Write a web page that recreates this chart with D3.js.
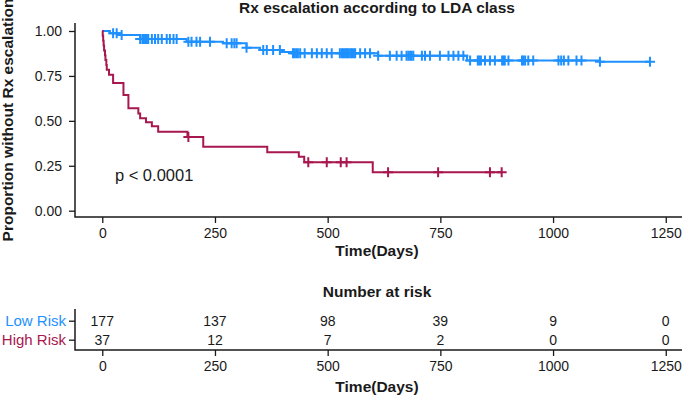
<!DOCTYPE html>
<html>
<head>
<meta charset="utf-8">
<script src="https://cdn.jsdelivr.net/npm/d3@7"></script>
<style>
  body { margin: 0; background: #fff; }
  text { font-family: "Liberation Sans", Arial, sans-serif; }
</style>
</head>
<body>
<div id="km_vis"></div>
<script>

// survival steps
var lowTimes = [0, 17, 39, 84, 187, 268, 320, 350, 395, 423, 612, 809, 1104];
var lowSurv = [1, 0.987, 0.978, 0.955, 0.940, 0.932, 0.907, 0.894, 0.883, 0.876, 0.862, 0.836, 0.829];
var lowEnd = 1215;
var lowCensor = [24, 32, 43, 84, 89, 92, 95, 99, 102, 110, 117, 124, 132, 143, 150, 158, 165, 191, 198, 209, 217, 239,
    276, 287, 293, 298, 320, 357, 365, 379, 394, 423, 426, 430, 434, 439, 449, 465, 476, 487, 498, 509, 527, 531, 534,
    538, 541, 544, 547, 551, 554, 558, 561, 572, 583, 594, 612, 638, 653, 664, 675, 679, 683, 686, 690, 709, 716, 727,
    749, 768, 779, 790, 801, 816, 833, 836, 840, 849, 860, 871, 887, 890, 893, 901, 931, 934, 938, 945, 956, 1012,
    1018, 1024, 1034, 1052, 1063, 1104, 1215];

var highTimes = [0, 1, 2, 3, 4, 6, 7, 9, 10, 15, 24, 47, 58, 80, 84, 97, 110, 124, 189, 224, 366, 436, 448, 600];
var highSurv = [1, 0.973, 0.946, 0.919, 0.892, 0.865, 0.838, 0.811, 0.784, 0.757, 0.710, 0.644, 0.570, 0.541,
    0.514, 0.492, 0.470, 0.440, 0.410, 0.356, 0.325, 0.300, 0.269, 0.214];
var highEnd = 886;
var highCensor = [191, 457, 498, 529, 542, 634, 745, 860, 886];

var groups = ["Low Risk", "High Risk"];
var riskTimes = [0, 250, 500, 750, 1000, 1250];
var lowAtRisk = [177, 137, 98, 39, 9, 0];
var highAtRisk = [37, 12, 7, 2, 0, 0];
var yTicks = [0, 0.25, 0.5, 0.75, 1];

function build_km_vis() {

    var width = 682, height = 397;
    var colors = ["#1E90FF", "#A8174F"];
    var ink = "#1a1a1a";

    var svg = d3.select("#km_vis")
        .append("svg")
            .attr("width", width)
            .attr("height", height);

    var xScale = d3.scaleLinear()
        .domain([-60.5, 1270.5])
        .range([75, 675]);

    var yScale = d3.scaleLinear()
        .domain([0, 1])
        .range([210.7, 31]);

    // title
    svg.append("text")
        .attr("x", 377).attr("y", 13)
        .attr("text-anchor", "middle")
        .attr("font-size", 15.5).attr("font-weight", "bold")
        .attr("fill", ink)
        .text("Rx escalation according to LDA class");

    // y axis
    var yAxis = svg.append("g")
        .attr("transform", "translate(75,0)")
        .call(d3.axisLeft(yScale).tickValues(yTicks).tickFormat(d3.format(".2f")).tickSize(6).tickPadding(7));
    yAxis.select(".domain").remove();
    yAxis.selectAll("line").attr("stroke", ink).attr("stroke-width", 1.3);
    yAxis.selectAll("text").attr("font-size", 14).attr("fill", ink).attr("font-family", "Liberation Sans, Arial");

    // x axis
    var xAxis = svg.append("g")
        .attr("transform", "translate(0,217)")
        .call(d3.axisBottom(xScale).tickValues(riskTimes).tickFormat(d3.format("d")).tickSize(6).tickPadding(5));
    xAxis.select(".domain").remove();
    xAxis.selectAll("line").attr("stroke", ink).attr("stroke-width", 1.3);
    xAxis.selectAll("text").attr("font-size", 14).attr("fill", ink).attr("font-family", "Liberation Sans, Arial");

    svg.append("path")
        .attr("d", "M75,23V217H682")
        .attr("fill", "none")
        .attr("stroke", ink)
        .attr("stroke-width", 1.5);

    svg.append("text")
        .attr("x", 377).attr("y", 256)
        .attr("text-anchor", "middle")
        .attr("font-size", 15.5).attr("font-weight", "bold")
        .attr("fill", ink)
        .text("Time(Days)");

    svg.append("text")
        .attr("transform", "translate(13,120) rotate(-90)")
        .attr("text-anchor", "middle")
        .attr("font-size", 15.5).attr("font-weight", "bold")
        .attr("fill", ink)
        .text("Proportion without Rx escalation");

    // curves
    var line = d3.line()
        .x(function(d){return xScale(d[0]);})
        .y(function(d){return yScale(d[1]);})
        .curve(d3.curveStepAfter);

    function survAt(times, surv, t) {
        return surv[d3.bisectRight(times, t) - 1];
    }

    var curves = [
        {times: lowTimes, surv: lowSurv, end: lowEnd, censor: lowCensor},
        {times: highTimes, surv: highSurv, end: highEnd, censor: highCensor}
    ];

    curves.forEach(function(c, i) {
        var pts = c.times.map(function(t, j){return [t, c.surv[j]];});
        pts.push([c.end, c.surv[c.surv.length - 1]]);

        svg.append("path")
            .datum(pts)
            .attr("d", line)
            .attr("fill", "none")
            .attr("stroke", colors[i])
            .attr("stroke-width", 2);

        svg.append("g")
            .selectAll("path")
            .data(c.censor)
            .enter()
            .append("path")
                .attr("transform", function(d){
                    return "translate(" + xScale(d) + "," + yScale(survAt(c.times, c.surv, d)) + ")";
                })
                .attr("d", "M-5,0H5M0,-5V5")
                .attr("stroke", colors[i])
                .attr("stroke-width", 2);
    });

    // p value
    svg.append("text")
        .attr("x", xScale(28)).attr("y", yScale(0.2) + 6)
        .attr("font-size", 16.5)
        .attr("fill", ink)
        .text("p < 0.0001");

    // number at risk table
    svg.append("text")
        .attr("x", 377).attr("y", 297)
        .attr("text-anchor", "middle")
        .attr("font-size", 15.5).attr("font-weight", "bold")
        .attr("fill", ink)
        .text("Number at risk");

    var rowScale = d3.scalePoint()
        .domain(groups)
        .range([320.7, 339.7]);

    var tableRows = [lowAtRisk, highAtRisk];

    groups.forEach(function(g, i) {
        svg.append("g")
            .selectAll("text")
            .data(tableRows[i])
            .enter()
            .append("text")
                .attr("x", function(d, j){return xScale(riskTimes[j]);})
                .attr("y", rowScale(g))
                .attr("dy", "0.36em")
                .attr("text-anchor", "middle")
                .attr("font-size", 14)
                .attr("fill", ink)
                .text(function(d){return d;});
    });

    var tAxis = svg.append("g")
        .attr("transform", "translate(75,0)")
        .call(d3.axisLeft(rowScale).tickSize(6).tickPadding(3));
    tAxis.select(".domain").remove();
    tAxis.selectAll("line").attr("stroke", ink).attr("stroke-width", 1.3);
    tAxis.selectAll("text")
        .attr("font-size", 15)
        .attr("font-family", "Liberation Sans, Arial")
        .attr("fill", function(d){return colors[groups.indexOf(d)];});

    var bAxis = svg.append("g")
        .attr("transform", "translate(0,350)")
        .call(d3.axisBottom(xScale).tickValues(riskTimes).tickFormat(d3.format("d")).tickSize(6).tickPadding(5));
    bAxis.select(".domain").remove();
    bAxis.selectAll("line").attr("stroke", ink).attr("stroke-width", 1.3);
    bAxis.selectAll("text").attr("font-size", 14).attr("fill", ink).attr("font-family", "Liberation Sans, Arial");

    svg.append("path")
        .attr("d", "M75,309V350H682")
        .attr("fill", "none")
        .attr("stroke", ink)
        .attr("stroke-width", 1.5);

    svg.append("text")
        .attr("x", 377).attr("y", 392)
        .attr("text-anchor", "middle")
        .attr("font-size", 15.5).attr("font-weight", "bold")
        .attr("fill", ink)
        .text("Time(Days)");
}
build_km_vis()
</script>
</body>
</html>
